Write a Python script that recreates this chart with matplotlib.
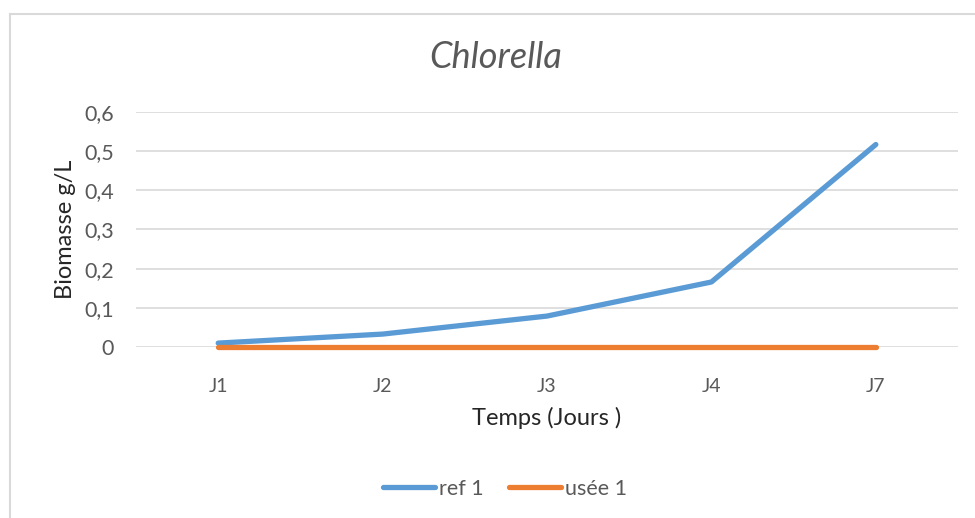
import matplotlib.pyplot as plt
from matplotlib.lines import Line2D

plt.rcParams['font.family'] = ['Lato', 'DejaVu Sans']

jours = ['J1', 'J2', 'J3', 'J4', 'J7']
ref1 = [0.010, 0.033, 0.079, 0.166, 0.517]
usee1 = [0.0, 0.0, 0.0, 0.0, 0.0]
yticks = [0, 0.1, 0.2, 0.3, 0.4, 0.5, 0.6]

gris = '#595959'
bleu = '#5B9BD5'
orange = '#ED7D31'

fig = plt.figure(figsize=(9.75, 5.18), dpi=100)
ax = fig.add_axes([0.1395, 0.3301, 0.8431, 0.4537])

# cadre du graphique (coupe a droite et en bas)
fig.add_artist(Line2D([10/975, 10/975], [0, 1 - 14/518], color='#D9D9D9', lw=1.5))
fig.add_artist(Line2D([10/975, 1], [1 - 14/518, 1 - 14/518], color='#D9D9D9', lw=1.5))

x = range(len(jours))
ax.plot(x, ref1, color=bleu, lw=3.8, solid_capstyle='round', solid_joinstyle='round', label='ref 1')
ax.plot(x, usee1, color=orange, lw=3.8, solid_capstyle='round', solid_joinstyle='round', label='usée 1')

ax.set_xlim(-0.5, len(jours) - 0.5)
ax.set_ylim(0, 0.6)
ax.set_yticks(yticks)
ax.set_yticklabels([('%g' % v).replace('.', ',') for v in yticks])
ax.set_xticks(list(x))
ax.set_xticklabels(jours)
ax.yaxis.grid(True, color='#D9D9D9', lw=1.2)
ax.set_axisbelow(True)
for s in ax.spines.values():
    s.set_visible(False)
ax.tick_params(length=0, colors=gris)
ax.tick_params(axis='y', labelsize=15.5, pad=16)
ax.tick_params(axis='x', labelsize=14, pad=22)
for l in ax.lines:
    l.set_clip_on(False)

ax.set_xlabel('Temps (Jours )', fontsize=17, color='#262626', labelpad=9)
ax.set_ylabel('Biomasse g/L', fontsize=17, color='#262626', labelpad=6)
fig.text(0.5085, 1 - 58/518, 'Chlorella', fontsize=26, style='italic', color=gris,
         ha='center', va='center')

leg = fig.legend(loc='center', bbox_to_anchor=(0.518, 1 - 489/518), ncol=2, frameon=False,
                 fontsize=15.5, handlelength=2.4, handletextpad=0.2, columnspacing=1.2)
for t in leg.get_texts():
    t.set_color(gris)

fig.savefig('out.png', dpi=100)
